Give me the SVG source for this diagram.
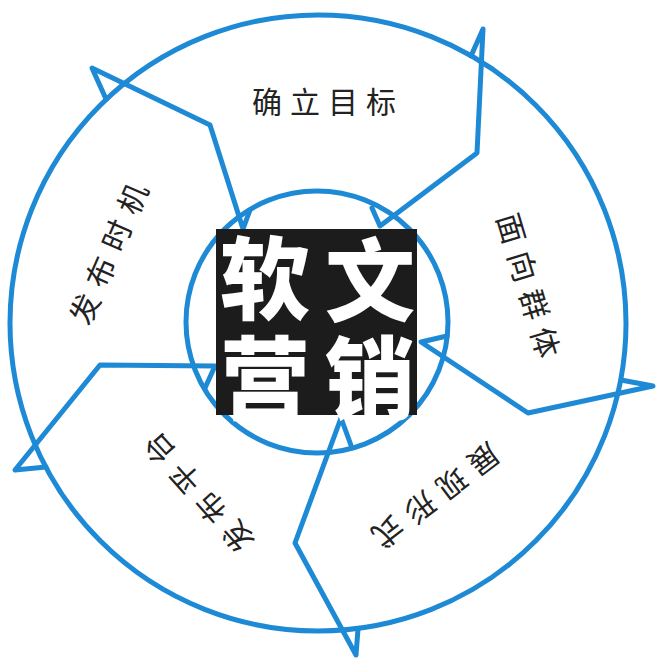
<svg xmlns="http://www.w3.org/2000/svg" width="660" height="663" viewBox="0 0 660 663">
  <style>
    .ring { fill: none; stroke: #1E8AD6; stroke-width: 5; }
    .div { fill: none; stroke: #1E8AD6; stroke-width: 5; stroke-linejoin: round; stroke-linecap: round; }
    .lbl { font-family: "Noto Sans CJK SC", "Noto Sans", sans-serif; font-size: 30px; fill: #222; text-anchor: middle; dominant-baseline: central; }
    .big { font-family: "Noto Sans CJK SC", sans-serif; font-size: 90px; font-weight: 900; fill: #ffffff; text-anchor: middle; dominant-baseline: central; }
  </style>
  <rect x="0" y="0" width="660" height="663" fill="#ffffff"/>
  <g id="ring">
    <circle class="ring" cx="318" cy="323" r="308"/>
    <circle class="ring" cx="317" cy="322" r="131"/>
  </g>
  <g id="connectors">
    <path class="div" d="M250,210 L243,229 L210,125 L92,68 L106,99"/>
    <path class="div" d="M372,208 L380,226 L477,153 L483,29 L471,56"/>
    <path class="div" d="M447,336 L421,342 L528,413 L653,386 L621,380"/>
    <path class="div" d="M352,448 L341,418 L295,543 L356,655 L358,629"/>
    <path class="div" d="M205,388 L215,366 L100,365 L15,470 L46,467"/>
  </g>
  <g id="center">
    <rect x="216" y="229" width="201" height="186" fill="#1c1c1c"/>
    <text class="big"><tspan x="265" y="273">软</tspan><tspan x="370" y="275">文</tspan><tspan x="265" y="373">营</tspan><tspan x="370" y="373">销</tspan></text>
  </g>
  <g id="seg-goal" transform="translate(324,100)">
    <text class="lbl" x="-57 -19 19 57" y="0">确立目标</text>
  </g>
  <g id="seg-audience" transform="translate(530,285) rotate(73.4)">
    <text class="lbl" x="-59.5 -19.8 19.8 59.5" y="0">面向群体</text>
  </g>
  <g id="seg-form" transform="translate(437,497) rotate(142.8)">
    <text class="lbl" x="-60 -20 20 60" y="0">展现形式</text>
  </g>
  <g id="seg-platform" transform="translate(197,494) rotate(228)">
    <text class="lbl" x="-59 -19.7 19.7 59" y="0">发布平台</text>
  </g>
  <g id="seg-timing" transform="translate(107,253) rotate(-66.4)">
    <text class="lbl" x="-60 -20 20 60" y="0">发布时机</text>
  </g>
</svg>
